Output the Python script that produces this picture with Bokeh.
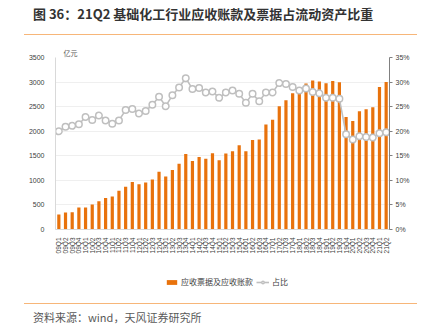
from math import pi
from bokeh.plotting import figure
from bokeh.layouts import column
from bokeh.models import (Range1d, FactorRange, LinearAxis, Div,
                          Legend, LegendItem, PrintfTickFormatter, FixedTicker)
from bokeh.embed import file_html
from bokeh.resources import INLINE

quarters = [f"{y:02d}Q{q}" for y in range(9, 21) for q in range(1, 5)] + ["21Q1", "21Q2"]

receivables = [305, 346, 350, 448, 448, 510, 574, 642, 672, 788,
               870, 968, 920, 955, 1015, 1175, 1080, 1212, 1339, 1535,
               1396, 1474, 1441, 1552, 1408, 1549, 1590, 1712, 1593, 1820,
               1830, 2136, 2235, 2507, 2629, 2772, 2765, 2969, 3030, 3010,
               2975, 3022, 2996, 2289, 2207, 2405, 2446, 2486, 2900, 3002]

ratio_pct = [20.0, 20.9, 21.1, 21.4, 22.9, 22.3, 23.2, 22.2, 21.5, 22.2,
             24.3, 24.5, 23.6, 24.1, 25.4, 27.0, 25.1, 27.3, 28.9, 30.8,
             28.6, 28.8, 27.9, 28.1, 26.8, 27.9, 28.3, 27.6, 25.8, 27.6,
             26.1, 27.9, 27.9, 29.8, 29.6, 29.0, 28.3, 28.7, 28.0, 27.7,
             26.8, 26.8, 26.6, 19.4, 18.3, 19.0, 18.8, 18.7, 19.6, 19.8]

left_ticks = [0, 500, 1000, 1500, 2000, 2500, 3000, 3500]
right_ticks = [0, 5, 10, 15, 20, 25, 30, 35]

title_text = "图 36：21Q2 基础化工行业应收账款及票据占流动资产比重"
source_text = "资料来源：wind，天风证券研究所"
bar_name = "应收票据及应收账款"
line_name = "占比"
unit_text = "亿元"

CJK = "Noto Sans CJK SC"
BAR_COLOR = "#E8720C"
LINE_COLOR = "#BFBFBF"
ACCENT = "#F7B679"

W = 426
TITLE_H, FIG_H, LEG_H, SRC_H = 35, 227, 38, 30
FL, FR = 55, 389
FRAME_TOP, FRAME_BOTTOM = 22, 194   # inside the main figure

reset = {"margin": "0", "padding": "0", "overflow": "hidden"}

title_div = Div(text=(
    f'<div style="margin:0 0 0 24px;width:393px;height:{TITLE_H}px;box-sizing:border-box;'
    f'border-bottom:1.5px solid {ACCENT};padding:5px 0 0 9px;font-family:\'{CJK}\';'
    f'font-size:13px;line-height:18px;font-weight:bold;color:#333333;white-space:nowrap;">'
    f'{title_text}</div>'), width=W, height=TITLE_H, styles=reset)

source_div = Div(text=(
    f'<div style="margin:3px 0 0 24px;width:393px;box-sizing:border-box;'
    f'border-top:1.5px solid {ACCENT};padding:6px 0 0 9px;font-family:\'{CJK}\';'
    f'font-size:11px;line-height:14px;color:#595959;white-space:nowrap;">'
    f'{source_text}</div>'), width=W, height=SRC_H, styles=reset)

p = figure(width=W, height=FIG_H, x_range=FactorRange(*quarters, range_padding=0),
           y_range=Range1d(0, 3500), output_backend="svg", toolbar_location=None,
           min_border_left=FL, min_border_right=W - FR, min_border_top=FRAME_TOP,
           min_border_bottom=FIG_H - FRAME_BOTTOM, outline_line_color=None,
           background_fill_color="white")
p.extra_y_ranges = {"pct": Range1d(0, 35)}

bars = p.vbar(x=quarters, top=receivables, width=0.48, color=BAR_COLOR, line_color=None)
ln = p.line(x=quarters, y=ratio_pct, y_range_name="pct", line_color=LINE_COLOR, line_width=1.6)
sc = p.scatter(x=quarters, y=ratio_pct, y_range_name="pct", size=6.5, fill_color="white",
               line_color=LINE_COLOR, line_width=1.5)

p.title.text = unit_text
p.title.align = "left"
p.title.offset = 8
p.title.text_font = CJK
p.title.text_font_size = "7px"
p.title.text_font_style = "normal"
p.title.text_color = "#595959"
p.title.standoff = 0

p.yaxis.ticker = FixedTicker(ticks=left_ticks)
p.yaxis.axis_line_color = "#D9D9D9"
p.yaxis.major_tick_line_color = None
p.yaxis.minor_tick_line_color = None
p.yaxis.major_label_text_font = "Liberation Sans"
p.yaxis.major_label_text_font_size = "7px"
p.yaxis.major_label_text_color = "#404040"
p.yaxis.major_label_standoff = 5

ra = LinearAxis(y_range_name="pct", ticker=FixedTicker(ticks=right_ticks),
                formatter=PrintfTickFormatter(format="%d%%"))
ra.axis_line_color = "#808080"
ra.major_tick_line_color = "#808080"
ra.major_tick_out = 3
ra.major_tick_in = 0
ra.minor_tick_line_color = None
ra.major_label_text_font = "Liberation Sans"
ra.major_label_text_font_size = "7px"
ra.major_label_text_color = "#404040"
ra.major_label_standoff = 3
p.add_layout(ra, "right")

p.xaxis.axis_line_color = "#D9D9D9"
p.xaxis.major_tick_line_color = None
p.xaxis.minor_tick_line_color = None
p.xaxis.major_label_orientation = pi / 2
p.xaxis.major_label_text_font = "Liberation Sans"
p.xaxis.major_label_text_font_size = "6.5px"
p.xaxis.major_label_text_color = "#404040"
p.xaxis.major_label_standoff = 2

p.xgrid.grid_line_color = None
p.ygrid.grid_line_color = "#EFEFEF"
p.ygrid.ticker = FixedTicker(ticks=left_ticks)

# legend strip: its own small figure (frame aligned with the main one by the column),
# with off-range sample renderers styled like the series
lp = figure(width=W, height=LEG_H, x_range=Range1d(0, 1), y_range=Range1d(0, 1),
            output_backend="svg", toolbar_location=None, min_border=0,
            outline_line_color=None)
lp.axis.visible = False
lp.grid.visible = False
off = [-10]
lbar = lp.vbar(x=off, top=off, width=0.5, color=BAR_COLOR, line_color=None)
lline = lp.line(x=off, y=off, line_color=LINE_COLOR, line_width=1.6)
lsc = lp.scatter(x=off, y=off, size=6, fill_color="white", line_color=LINE_COLOR, line_width=1.4)
legend = Legend(items=[LegendItem(label=bar_name, renderers=[lbar]),
                       LegendItem(label=line_name, renderers=[lline, lsc])],
                orientation="horizontal", location=(165 - FL, 13),
                label_text_font=CJK, label_text_font_size="8px", label_text_color="#404040",
                glyph_width=13, glyph_height=6, label_standoff=3, spacing=3,
                padding=0, margin=0, border_line_color=None, background_fill_alpha=0)
lp.add_layout(legend, "center")

layout = column(title_div, p, lp, source_div, spacing=0)
open("out.html", "w").write(file_html(layout, INLINE))
